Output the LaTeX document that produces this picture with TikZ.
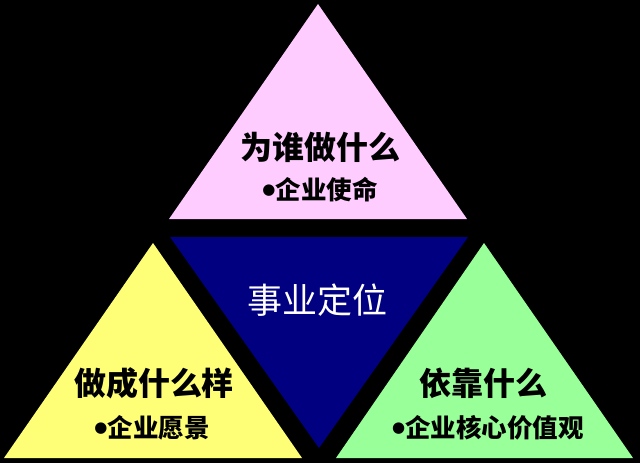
\documentclass[tikz,border=0pt]{standalone}
\usepackage{fontspec}
\newfontfamily\cjk{Noto Sans CJK SC}
\newfontfamily\symf{DejaVu Sans}
\definecolor{pinkfill}{HTML}{FFCCFF}
\definecolor{yellowfill}{HTML}{FFFF77}
\definecolor{greenfill}{HTML}{99FF99}
\definecolor{navyfill}{HTML}{000080}
\tikzset{
  title/.style={font=\cjk\bfseries\fontsize{32}{36}\selectfont, text=black, inner sep=0pt},
  sub/.style={font=\cjk\bfseries\fontsize{25.5}{28}\selectfont, text=black, inner sep=0pt},
  center/.style={font=\cjk\fontsize{35}{38}\selectfont, text=white, inner sep=0pt},
}
\newcommand{\bul}{\raisebox{5pt}{\symf\fontsize{15}{15}\selectfont ●}}
\begin{document}
\begin{tikzpicture}[x=1pt,y=-1pt]
\fill[black] (0,0) rectangle (640,463);
\useasboundingbox (0,0) rectangle (640,463);
% triangles
\fill[pinkfill]  (169,219) -- (318,4) -- (467,219) -- cycle;
\fill[yellowfill] (4,458) -- (153,243) -- (302,458) -- cycle;
\fill[navyfill] (170,237) -- (468,237) -- (319,448) -- cycle;
\fill[greenfill] (336,458) -- (484,243) -- (633,458) -- cycle;
% texts
\node[title] (t1) at (320,147) {为谁做什么};
\node[sub] (s1) at (320,190) {\bul 企业使命};
\node[center] (c) at (317,300) {事业定位};
\node[title] (t2) at (154,383) {做成什么样};
\node[sub] (s2) at (152,428) {\bul 企业愿景};
\node[title] (t3) at (483,383) {依靠什么};
\node[sub] (s3) at (488,428) {\bul 企业核心价值观};
\end{tikzpicture}
\end{document}
